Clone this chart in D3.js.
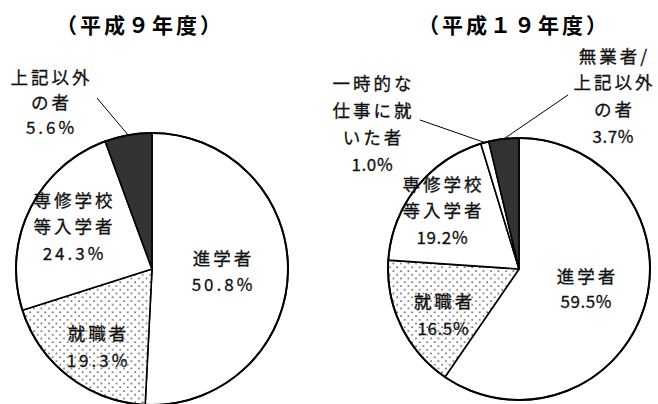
<!DOCTYPE html>
<html>
<head>
<meta charset="utf-8">
<script src="https://cdn.jsdelivr.net/npm/d3@7"></script>
<style>
  body { margin: 0; background: #fff; }
  svg text { font-family: "Noto Sans CJK JP", sans-serif; fill: #111; }
</style>
</head>
<body>
<div id="chart"></div>
<script>
// chart data
var titles = ["（平成９年度）", "（平成１９年度）"];
var leftNames = ["進学者", "就職者", "専修学校等入学者", "上記以外の者"];
var leftValues = [50.8, 19.3, 24.3, 5.6];
var leftLines = [["進学者"], ["就職者"], ["専修学校", "等入学者"], ["上記以外", "の者"]];
var rightNames = ["進学者", "就職者", "専修学校等入学者", "一時的な仕事に就いた者", "無業者/上記以外の者"];
var rightValues = [59.5, 16.5, 19.2, 1.0, 3.7];
var rightLines = [["進学者"], ["就職者"], ["専修学校", "等入学者"], ["一時的な", "仕事に就", "いた者"], ["無業者/", "上記以外", "の者"]];

// fills per slice: white, dotted, dark
var leftFills = ["white", "url(#dots)", "white", "#333"];
var rightFills = ["white", "url(#dots)", "white", "white", "#333"];

// layout: label centre offsets from pie centre (x, y of first line), line step, leader start
var leftLayout = [
   {x: 70, y: -12, step: 26},
   {x: -55, y: 63, step: 27},
   {x: -79, y: -70, step: 26.5},
   {x: -102, y: -193, step: 25, leader: [-55, -171]}
];
var rightLayout = [
   {x: 67, y: 6, step: 25},
   {x: -76, y: 31, step: 27},
   {x: -77, y: -86, step: 26.5},
   {x: -147, y: -187, step: 27, leader: [-99, -149]},
   {x: 94, y: -214, step: 26.7, leader: [49, -174]}
];

var width = 658, height = 404;
var svg = d3.select("#chart").append("svg")
   .attr("width", width)
   .attr("height", height);

var pat = svg.append("defs").append("pattern")
   .attr("id", "dots")
   .attr("patternUnits", "userSpaceOnUse")
   .attr("width", 7.5)
   .attr("height", 7.5);
pat.append("rect").attr("width", 7.5).attr("height", 7.5).attr("fill", "white");
pat.append("circle").attr("cx", 2).attr("cy", 2).attr("r", 0.9).attr("fill", "#555");
pat.append("circle").attr("cx", 5.75).attr("cy", 5.75).attr("r", 0.9).attr("fill", "#555");

var charts = [
   {cx: 152, cy: 269, r: 136, tx: 138, names: leftNames, values: leftValues, lines: leftLines,
    fills: leftFills, layout: leftLayout, numSpacing: 3},
   {cx: 519, cy: 269, r: 131, tx: 512, names: rightNames, values: rightValues, lines: rightLines,
    fills: rightFills, layout: rightLayout, numSpacing: 0.6}
];

var pie = d3.pie().sort(null).value(function (d) { return d; });

charts.forEach(function (c, ci) {
   // title
   svg.append("text")
      .attr("x", c.tx + 2)
      .attr("y", 24)
      .attr("text-anchor", "middle")
      .attr("dominant-baseline", "central")
      .style("font-size", "21px")
      .style("font-weight", "bold")
      .style("letter-spacing", "3px")
      .style("fill", "#000")
      .text(titles[ci]);

   var g = svg.append("g").attr("transform", "translate(" + c.cx + "," + c.cy + ")");
   var arcs = pie(c.values);
   var arc = d3.arc().innerRadius(0).outerRadius(c.r);

   g.selectAll("path.slice")
      .data(arcs)
      .enter().append("path")
      .attr("class", "slice")
      .attr("d", arc)
      .attr("fill", function (d, i) { return c.fills[i]; })
      .attr("stroke", "#000")
      .attr("stroke-width", 1.6)
      .attr("stroke-linejoin", "round");

   g.append("circle")
      .attr("r", c.r)
      .attr("fill", "none")
      .attr("stroke", "#000")
      .attr("stroke-width", 2);

   // labels
   arcs.forEach(function (d, i) {
      var L = c.layout[i];
      var lines = c.lines[i].slice();
      lines.push(d.data.toFixed(1) + "%");
      if (L.leader) {
         var mid = (d.startAngle + d.endAngle) / 2;
         g.append("line")
            .attr("x1", L.leader[0])
            .attr("y1", L.leader[1])
            .attr("x2", c.r * Math.sin(mid))
            .attr("y2", -c.r * Math.cos(mid))
            .attr("stroke", "#000")
            .attr("stroke-width", 1);
      }
      lines.forEach(function (s, k) {
         var isNum = k === lines.length - 1;
         var sp = isNum ? c.numSpacing : 3;
         g.append("text")
            .attr("x", L.x + sp / 2)
            .attr("y", L.y + k * L.step)
            .attr("text-anchor", "middle")
            .attr("dominant-baseline", "central")
            .style("font-size", isNum ? "17px" : "17.5px")
            .style("letter-spacing", sp + "px")
            .style("stroke", "#111")
            .style("stroke-width", 0.3)
            .text(s);
      });
   });
});
</script>
</body>
</html>
